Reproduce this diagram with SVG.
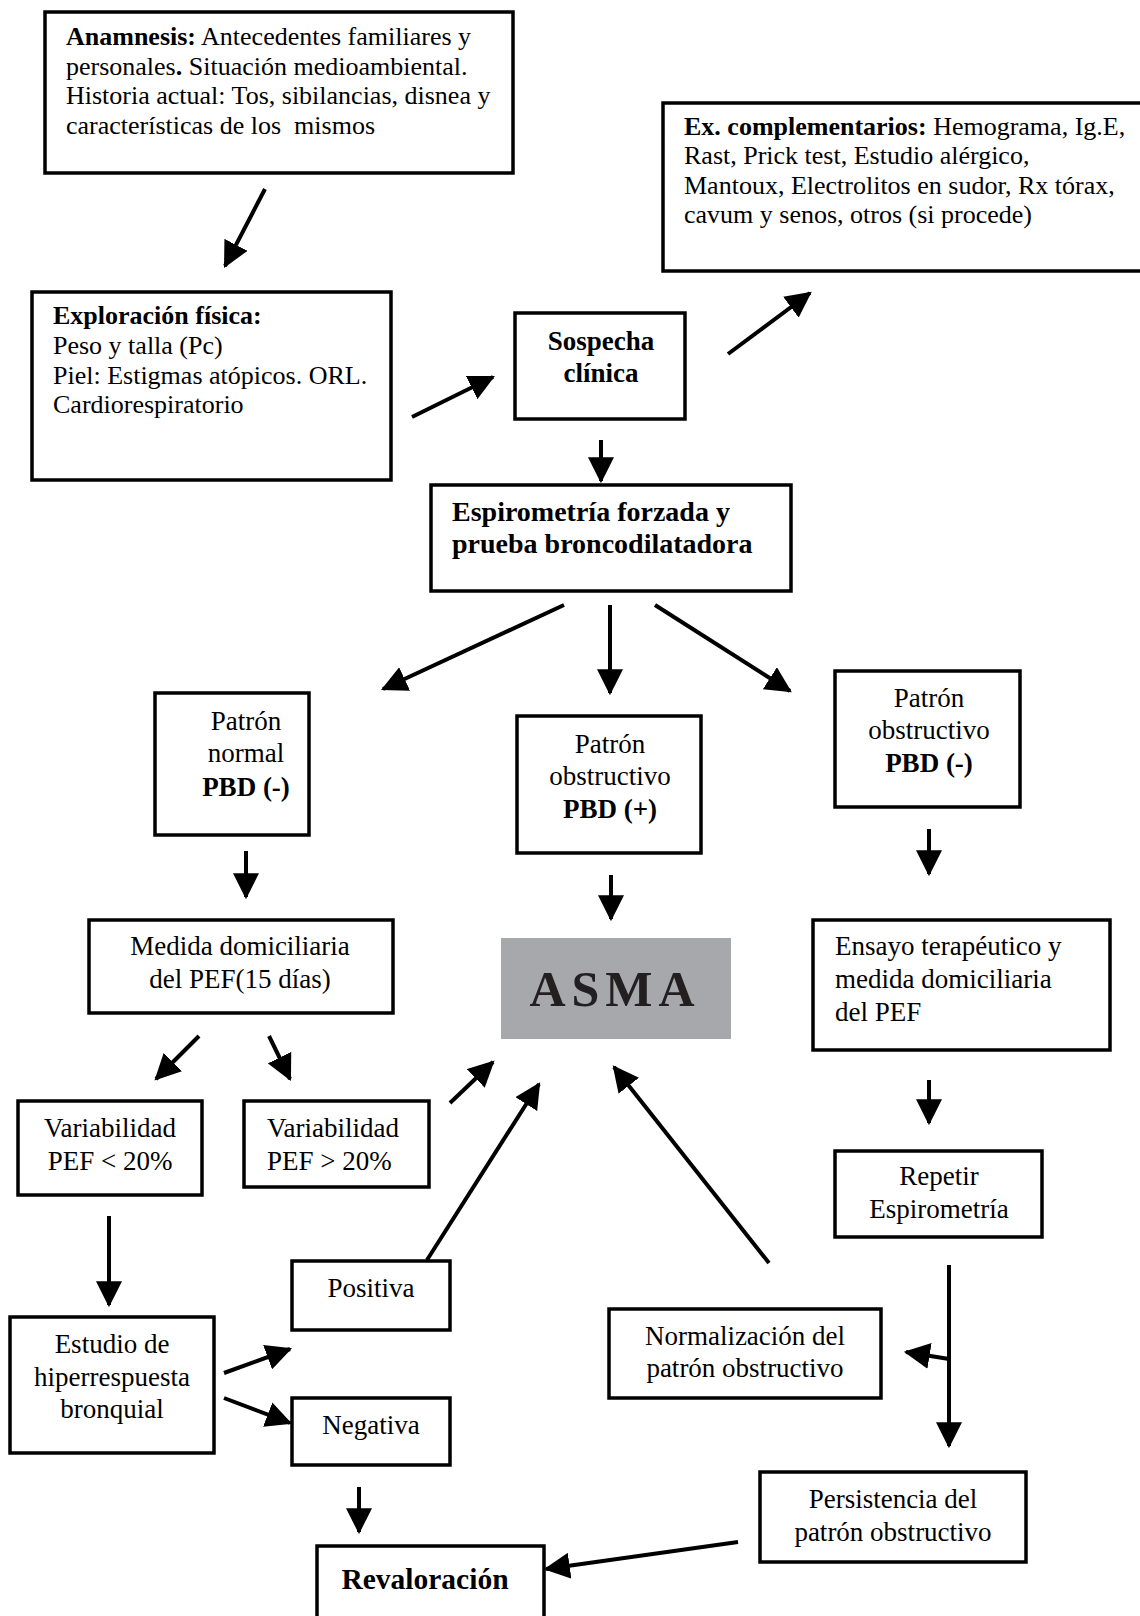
<svg xmlns="http://www.w3.org/2000/svg" width="1140" height="1616" viewBox="0 0 1140 1616">
<style>
.box{fill:#fff;stroke:#000;stroke-width:3.5}
.t{font-family:"Liberation Serif","Times New Roman",serif;font-size:27px;fill:#000}
.s{font-size:26px}
.b{font-weight:bold}
.c{text-anchor:middle}
.ln{fill:none;stroke:#000;stroke-width:4;marker-end:url(#ah)}
</style>
<defs>
<marker id="ah" markerUnits="userSpaceOnUse" markerWidth="26" markerHeight="26" viewBox="0 0 24 24" refX="22" refY="12" orient="auto">
<path d="M0,0 L24,12 L0,24 z" fill="#000"/>
</marker>
</defs>
<rect width="1140" height="1616" fill="#fff"/>
<g id="connectors">
<line class="ln" x1="265" y1="189" x2="225" y2="266"/>
<line class="ln" x1="412" y1="417" x2="493" y2="377"/>
<line class="ln" x1="728" y1="354" x2="810" y2="293"/>
<line class="ln" x1="601" y1="440" x2="601" y2="481"/>
<line class="ln" x1="564" y1="605" x2="383" y2="689"/>
<line class="ln" x1="610" y1="605" x2="610" y2="693"/>
<line class="ln" x1="655" y1="605" x2="790" y2="691"/>
<line class="ln" x1="246" y1="851" x2="246" y2="897"/>
<line class="ln" x1="611" y1="875" x2="611" y2="919"/>
<line class="ln" x1="929" y1="829" x2="929" y2="874"/>
<line class="ln" x1="199" y1="1036" x2="156" y2="1079"/>
<line class="ln" x1="269" y1="1036" x2="290" y2="1079"/>
<line class="ln" x1="450" y1="1103" x2="493" y2="1062"/>
<line class="ln" x1="109" y1="1216" x2="109" y2="1305"/>
<line class="ln" x1="427" y1="1260" x2="539" y2="1084"/>
<line class="ln" x1="224" y1="1373" x2="290" y2="1349"/>
<line class="ln" x1="224" y1="1398" x2="290" y2="1423"/>
<line class="ln" x1="359" y1="1487" x2="359" y2="1532"/>
<line class="ln" x1="929" y1="1080" x2="929" y2="1123"/>
<line class="ln" x1="949" y1="1265" x2="949" y2="1446"/>
<line class="ln" x1="949" y1="1359" x2="906" y2="1352"/>
<line class="ln" x1="769" y1="1263" x2="614" y2="1067"/>
<line class="ln" x1="738" y1="1542" x2="546" y2="1569"/>
</g>
<g id="anamnesis">
<rect class="box" x="45" y="12" width="468" height="161"/>
<text class="t s" x="66" y="45"><tspan class="b">Anamnesis:</tspan> Antecedentes familiares y</text>
<text class="t s" x="66" y="75">personales<tspan class="b">.</tspan> Situación medioambiental.</text>
<text class="t s" x="66" y="104">Historia actual: Tos, sibilancias, disnea y</text>
<text class="t s" x="66" y="134" xml:space="preserve">características de los  mismos</text>
</g>
<g id="excomplementarios">
<rect class="box" x="663" y="103" width="500" height="168"/>
<text class="t s" x="684" y="135"><tspan class="b">Ex. complementarios:</tspan> Hemograma, Ig.E,</text>
<text class="t s" x="684" y="164">Rast, Prick test, Estudio alérgico,</text>
<text class="t s" x="684" y="194">Mantoux, Electrolitos en sudor, Rx tórax,</text>
<text class="t s" x="684" y="223">cavum y senos, otros (si procede)</text>
</g>
<g id="exploracion">
<rect class="box" x="32" y="292" width="359" height="188"/>
<text class="t s b" x="53" y="324">Exploración física:</text>
<text class="t s" x="53" y="354">Peso y talla (Pc)</text>
<text class="t s" x="53" y="384">Piel: Estigmas atópicos. ORL.</text>
<text class="t s" x="53" y="413">Cardiorespiratorio</text>
</g>
<g id="sospecha">
<rect class="box" x="515" y="313" width="170" height="106"/>
<text class="t b c" x="601" y="350">Sospecha</text>
<text class="t b c" x="601" y="382">clínica</text>
</g>
<g id="espirometria">
<rect class="box" x="431" y="485" width="360" height="106"/>
<text class="t b" x="452" y="521" style="font-size:28px">Espirometría forzada y</text>
<text class="t b" x="452" y="553" style="font-size:28px">prueba broncodilatadora</text>
</g>
<g id="patron-normal">
<rect class="box" x="155" y="693" width="154" height="142"/>
<text class="t c" x="246" y="730">Patrón</text>
<text class="t c" x="246" y="762">normal</text>
<text class="t b c" x="246" y="796">PBD (-)</text>
</g>
<g id="patron-obstructivo-pos">
<rect class="box" x="517" y="716" width="184" height="137"/>
<text class="t c" x="610" y="753">Patrón</text>
<text class="t c" x="610" y="785">obstructivo</text>
<text class="t b c" x="610" y="818">PBD (+)</text>
</g>
<g id="patron-obstructivo-neg">
<rect class="box" x="835" y="671" width="185" height="136"/>
<text class="t c" x="929" y="707">Patrón</text>
<text class="t c" x="929" y="739">obstructivo</text>
<text class="t b c" x="929" y="772">PBD (-)</text>
</g>
<g id="medida">
<rect class="box" x="89" y="920" width="304" height="93"/>
<text class="t c" x="240" y="955">Medida domiciliaria</text>
<text class="t c" x="240" y="988">del PEF(15 días)</text>
</g>
<g id="asma">
<rect x="501" y="938" width="230" height="101" fill="#a7a8ac"/>
<text x="615" y="1006" font-family="Liberation Serif,Times New Roman,serif" font-size="50" font-weight="bold" fill="#231f20" text-anchor="middle" letter-spacing="6">ASMA</text>
</g>
<g id="ensayo">
<rect class="box" x="813" y="920" width="297" height="130"/>
<text class="t" x="835" y="955">Ensayo terapéutico y</text>
<text class="t" x="835" y="988">medida domiciliaria</text>
<text class="t" x="835" y="1021">del PEF</text>
</g>
<g id="var-menor">
<rect class="box" x="18" y="1101" width="184" height="94"/>
<text class="t c" x="110" y="1137">Variabilidad</text>
<text class="t c" x="110" y="1170">PEF &lt; 20%</text>
</g>
<g id="var-mayor">
<rect class="box" x="244" y="1101" width="185" height="86"/>
<text class="t" x="267" y="1137">Variabilidad</text>
<text class="t" x="267" y="1170">PEF &gt; 20%</text>
</g>
<g id="repetir">
<rect class="box" x="835" y="1151" width="207" height="86"/>
<text class="t c" x="939" y="1185">Repetir</text>
<text class="t c" x="939" y="1218">Espirometría</text>
</g>
<g id="positiva">
<rect class="box" x="292" y="1261" width="158" height="69"/>
<text class="t c" x="371" y="1297">Positiva</text>
</g>
<g id="estudio">
<rect class="box" x="10" y="1317" width="204" height="136"/>
<text class="t c" x="112" y="1353">Estudio de</text>
<text class="t c" x="112" y="1386">hiperrespuesta</text>
<text class="t c" x="112" y="1418">bronquial</text>
</g>
<g id="negativa">
<rect class="box" x="292" y="1398" width="158" height="67"/>
<text class="t c" x="371" y="1434">Negativa</text>
</g>
<g id="normalizacion">
<rect class="box" x="609" y="1309" width="272" height="89"/>
<text class="t c" x="745" y="1345">Normalización del</text>
<text class="t c" x="745" y="1377">patrón obstructivo</text>
</g>
<g id="persistencia">
<rect class="box" x="760" y="1472" width="266" height="90"/>
<text class="t c" x="893" y="1508">Persistencia del</text>
<text class="t c" x="893" y="1541">patrón obstructivo</text>
</g>
<g id="revaloracion">
<rect class="box" x="317" y="1546" width="227" height="80"/>
<text class="t b c" x="425" y="1589" style="font-size:29.5px">Revaloración</text>
</g>
</svg>
